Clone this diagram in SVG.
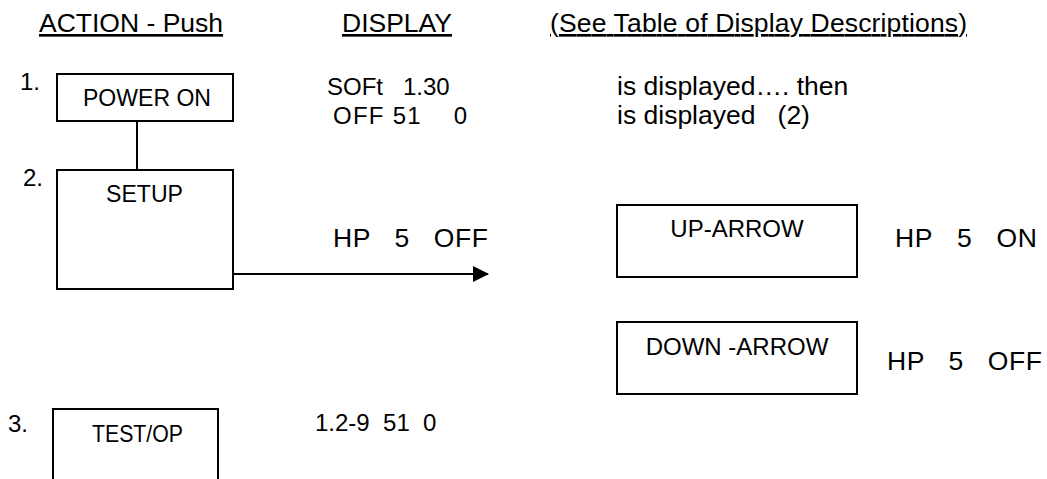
<svg xmlns="http://www.w3.org/2000/svg" width="1047" height="479" viewBox="0 0 1047 479">
<style>
text{font-family:"Liberation Sans",Arial,sans-serif;font-size:24px;fill:#000}
.big{font-size:26.5px}
.hd{text-decoration:underline}
.box{fill:#fff;stroke:#000;stroke-width:2}
.ln{stroke:#000;stroke-width:2;fill:none}
.mid{text-anchor:middle}
</style>
<defs>
<marker id="ah" markerWidth="16" markerHeight="16" refX="15" refY="8" orient="auto" markerUnits="userSpaceOnUse">
<path d="M0,0 L16,8 L0,16 Z" fill="#000"/>
</marker>
</defs>
<rect width="1047" height="479" fill="#fff"/>
<g id="headers">
<text x="39" y="32" class="hd big">ACTION - Push</text>
<text x="342" y="32" class="hd big">DISPLAY</text>
<text x="550" y="32" class="hd big" textLength="417" lengthAdjust="spacing">(See Table of Display Descriptions)</text>
</g>
<g id="connectors">
<line class="ln" x1="137" y1="121" x2="137" y2="170"/>
<line class="ln" x1="233" y1="274" x2="488" y2="274" marker-end="url(#ah)"/>
</g>
<g id="power-on">
<text x="20" y="90">1.</text>
<rect class="box" x="57" y="74" width="176" height="47"/>
<text x="83" y="106" textLength="128" lengthAdjust="spacingAndGlyphs">POWER ON</text>
</g>
<g id="setup">
<text x="23" y="186">2.</text>
<rect class="box" x="57" y="170" width="176" height="119"/>
<text x="106" y="202" textLength="77" lengthAdjust="spacingAndGlyphs">SETUP</text>
</g>
<g id="up-arrow">
<rect class="box" x="617" y="205" width="240" height="72"/>
<text x="737" y="237" class="mid">UP-ARROW</text>
</g>
<g id="down-arrow">
<rect class="box" x="617" y="322" width="240" height="72"/>
<text x="737" y="355" class="mid">DOWN -ARROW</text>
</g>
<g id="test-op">
<text x="8" y="432">3.</text>
<rect class="box" x="53" y="409" width="165" height="80"/>
<text x="92" y="442" textLength="91" lengthAdjust="spacingAndGlyphs">TEST/OP</text>
</g>
<g id="display-texts">
<text x="327" y="95" xml:space="preserve">SOFt   1.30</text>
<text x="333" y="124" xml:space="preserve" textLength="134" lengthAdjust="spacing">OFF 51    0</text>
<text x="617" y="95" class="big">is displayed…. then</text>
<text x="617" y="124" class="big" xml:space="preserve">is displayed   (2)</text>
<text x="333" y="247" class="big" xml:space="preserve" textLength="155" lengthAdjust="spacing">HP   5   OFF</text>
<text x="895" y="247" class="big" xml:space="preserve" textLength="142" lengthAdjust="spacing">HP   5   ON</text>
<text x="887" y="370" class="big" xml:space="preserve" textLength="155" lengthAdjust="spacing">HP   5   OFF</text>
<text x="315" y="431" xml:space="preserve">1.2-9  51  0</text>
</g>
</svg>
